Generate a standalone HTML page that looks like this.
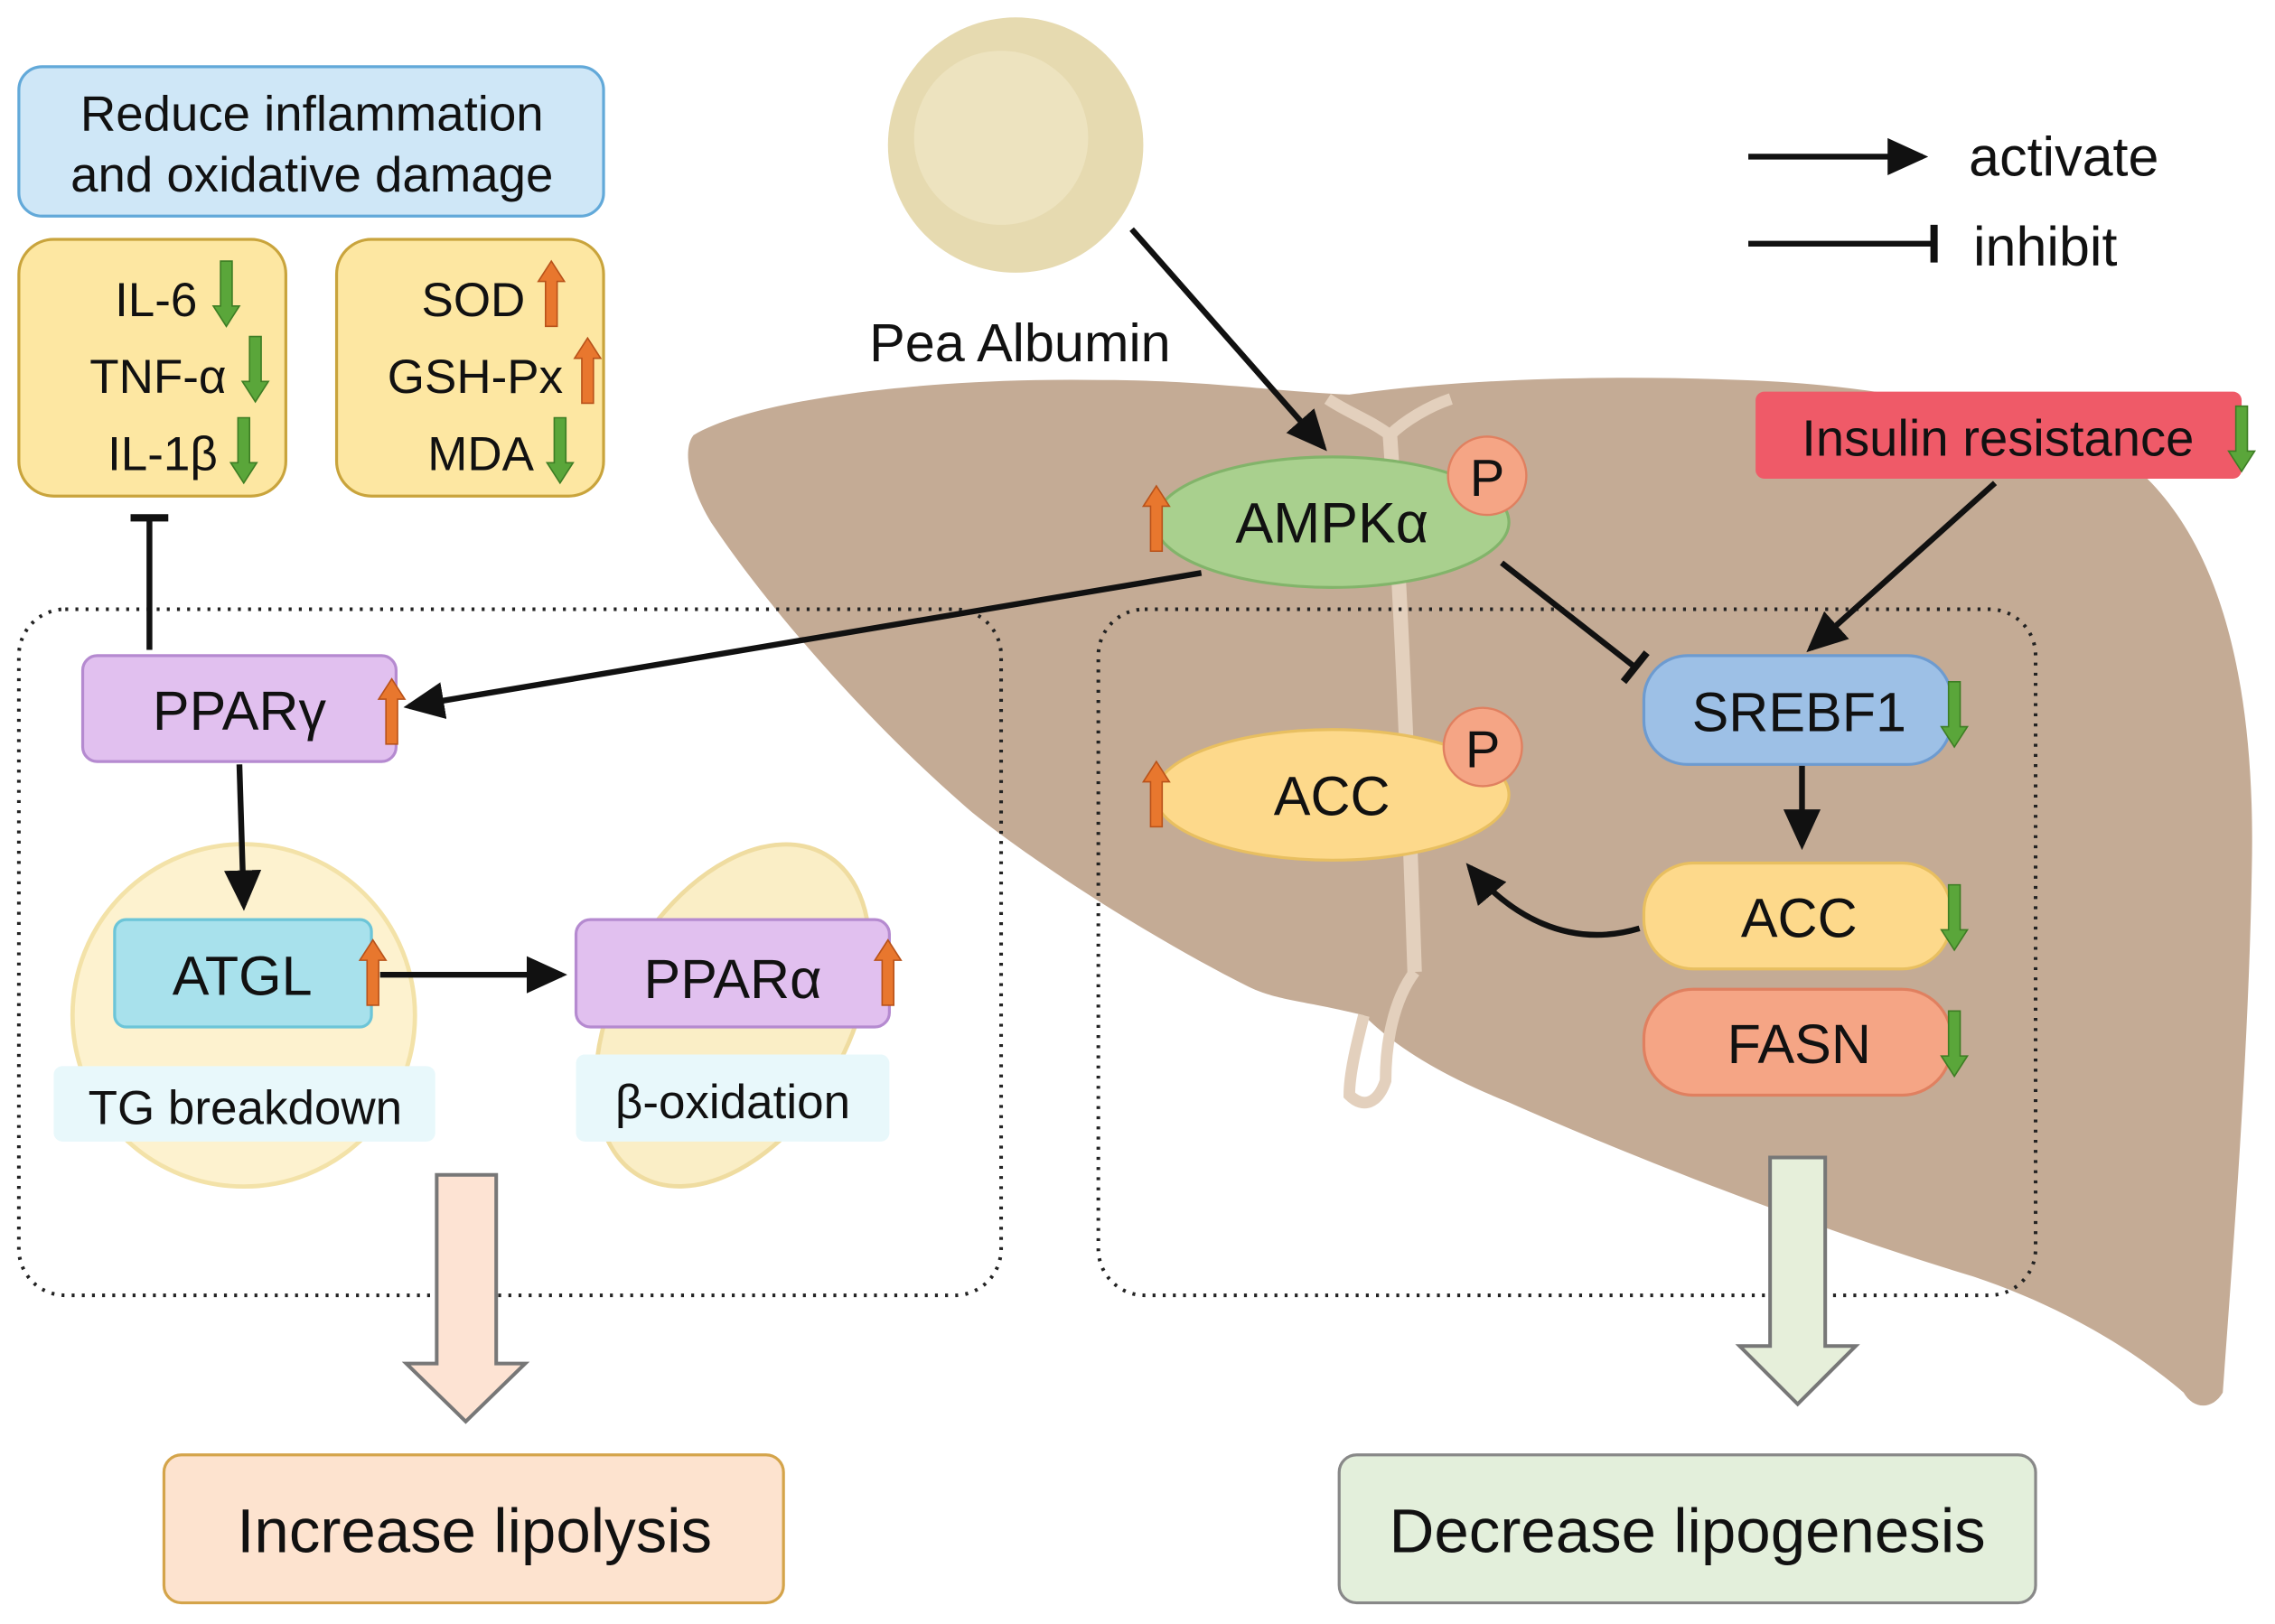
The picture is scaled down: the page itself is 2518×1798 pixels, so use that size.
<!DOCTYPE html>
<html><head><meta charset="utf-8"><style>
html,body{margin:0;padding:0;background:#fff}
svg{display:block}
text{font-family:"Liberation Sans",sans-serif;fill:#111}
</style></head><body>
<svg width="2518" height="1798" viewBox="0 0 1568 1119.6" preserveAspectRatio="none" xmlns="http://www.w3.org/2000/svg">
<defs>
<marker id="ah" markerWidth="8" markerHeight="8" refX="6" refY="4" orient="auto" markerUnits="strokeWidth"><path d="M0,0.8 L7,4 L0,7.2 Z" fill="#111"/></marker>
<g id="up"><path d="M-4,45 L-4,14 L-9,14 L0,0 L9,14 L4,14 L4,45 Z" fill="#e8772e" stroke="#b8521a" stroke-width="1"/></g>
<g id="dn"><path d="M-4,0 L-4,31 L-9,31 L0,45 L9,31 L4,31 L4,0 Z" fill="#5aa63a" stroke="#3d7d24" stroke-width="1"/></g>
</defs>
<!-- liver -->
<path d="M478,300 C520,275 640,260 760,262 C830,262 880,270 930,272 C1000,262 1100,258 1200,262 C1330,266 1440,300 1480,330 C1530,380 1555,470 1552,600 C1550,720 1540,850 1532,960 C1525,972 1512,972 1505,960 C1470,930 1420,900 1360,880 C1260,850 1130,800 1040,760 C990,740 960,720 940,700 C900,690 880,690 860,680 C800,650 720,600 670,560 C600,500 530,420 490,360 C475,335 470,310 478,300 Z" fill="#c4ab95"/>
<path d="M940,700 C935,720 930,740 930,755 C940,765 950,760 955,745 C955,720 960,690 975,670" fill="none" stroke="#e3d0bd" stroke-width="8"/>
<path d="M958,300 C965,400 970,520 975,670" fill="none" stroke="#e3d0bd" stroke-width="10"/>
<path d="M915,275 C930,285 945,290 958,300 C968,290 985,280 1000,275" fill="none" stroke="#e3d0bd" stroke-width="8"/>
<!-- pea albumin -->
<circle cx="700" cy="100" r="88" fill="#e6dab0"/>
<circle cx="690" cy="95" r="60" fill="#ede3bf"/>
<text x="703" y="249" font-size="37" text-anchor="middle">Pea Albumin</text>
<line x1="780" y1="158" x2="912" y2="308" stroke="#111" stroke-width="4" marker-end="url(#ah)"/>
<!-- legend -->
<line x1="1205" y1="108" x2="1325" y2="108" stroke="#111" stroke-width="4" marker-end="url(#ah)"/>
<text x="1357" y="121" font-size="38">activate</text>
<line x1="1205" y1="168" x2="1333" y2="168" stroke="#111" stroke-width="4"/>
<line x1="1333" y1="155" x2="1333" y2="181" stroke="#111" stroke-width="5"/>
<text x="1360" y="183" font-size="38">inhibit</text>
<!-- top-left boxes -->
<rect x="13" y="46" width="403" height="103" rx="16" fill="#cfe7f7" stroke="#62a9d9" stroke-width="2"/>
<text x="215" y="90" font-size="34" text-anchor="middle">Reduce inflammation</text>
<text x="215" y="132" font-size="34" text-anchor="middle">and oxidative damage</text>
<rect x="13" y="165" width="184" height="177" rx="24" fill="#fde7a2" stroke="#c9a43c" stroke-width="2"/>
<rect x="232" y="165" width="184" height="177" rx="24" fill="#fde7a2" stroke="#c9a43c" stroke-width="2"/>
<text x="136" y="218" font-size="33" text-anchor="end">IL-6</text>
<text x="156" y="271" font-size="33" text-anchor="end">TNF-α</text>
<text x="150" y="324" font-size="33" text-anchor="end">IL-1β</text>
<use href="#dn" x="156" y="180"/><use href="#dn" x="176" y="232"/><use href="#dn" x="168" y="288"/>
<text x="362" y="218" font-size="33" text-anchor="end">SOD</text>
<text x="388" y="271" font-size="33" text-anchor="end">GSH-Px</text>
<text x="368" y="324" font-size="33" text-anchor="end">MDA</text>
<use href="#up" x="380" y="180"/><use href="#up" x="405" y="233"/><use href="#dn" x="386" y="288"/>
<!-- dotted boxes -->
<rect x="13" y="420" width="677" height="473" rx="32" fill="none" stroke="#222" stroke-width="2.5" stroke-dasharray="2,5"/>
<rect x="757" y="420" width="646" height="473" rx="32" fill="none" stroke="#222" stroke-width="2.5" stroke-dasharray="2,5"/>
<!-- left inner illustrations -->
<circle cx="168" cy="700" r="118" fill="#fdf2cf" stroke="#f3e2a8" stroke-width="3"/>
<g transform="rotate(-60 505 700)"><ellipse cx="505" cy="700" rx="128" ry="80" fill="#faeec6" stroke="#efdca0" stroke-width="3"/></g>
<!-- insulin -->
<rect x="1210" y="270" width="335" height="60" rx="6" fill="#ef5a68"/>
<text x="1377" y="314" font-size="35" text-anchor="middle">Insulin resistance</text>
<use href="#dn" x="1545" y="280"/>
<line x1="1375" y1="333" x2="1248" y2="447" stroke="#111" stroke-width="4" marker-end="url(#ah)"/>
<!-- AMPK -->
<line x1="1035" y1="388" x2="1127" y2="460" stroke="#111" stroke-width="4"/>
<line x1="1119" y1="470" x2="1135" y2="450" stroke="#111" stroke-width="5"/>
<line x1="828" y1="395" x2="282" y2="487" stroke="#111" stroke-width="4" marker-end="url(#ah)"/>
<ellipse cx="918" cy="360" rx="122" ry="45" fill="#a9d08e" stroke="#82b46a" stroke-width="2"/>
<text x="918" y="374" font-size="39" text-anchor="middle">AMPKα</text>
<circle cx="1025" cy="328" r="27" fill="#f5a585" stroke="#e08060" stroke-width="1.5"/>
<text x="1025" y="342" font-size="36" text-anchor="middle">P</text>
<use href="#up" x="797" y="335"/>
<!-- PPARγ -->
<line x1="103" y1="448" x2="103" y2="358" stroke="#111" stroke-width="4"/>
<line x1="90" y1="357" x2="116" y2="357" stroke="#111" stroke-width="5"/>
<rect x="57" y="452" width="216" height="73" rx="10" fill="#e1c0ef" stroke="#b58ad0" stroke-width="2"/>
<text x="165" y="503" font-size="38" text-anchor="middle">PPARγ</text>
<use href="#up" x="270" y="468"/>
<line x1="165" y1="527" x2="168" y2="624" stroke="#111" stroke-width="4" marker-end="url(#ah)"/>
<!-- ATGL -->
<rect x="79" y="634" width="177" height="74" rx="8" fill="#a8e1ec" stroke="#6cc5d8" stroke-width="2"/>
<text x="167" y="686" font-size="38" text-anchor="middle">ATGL</text>
<use href="#up" x="257" y="648"/>
<line x1="262" y1="672" x2="387" y2="672" stroke="#111" stroke-width="4" marker-end="url(#ah)"/>
<rect x="397" y="634" width="216" height="74" rx="10" fill="#e1c0ef" stroke="#b58ad0" stroke-width="2"/>
<text x="505" y="688" font-size="38" text-anchor="middle">PPARα</text>
<use href="#up" x="612" y="648"/>
<rect x="37" y="735" width="263" height="52" rx="6" fill="#e8f8fb"/>
<text x="169" y="775" font-size="33" text-anchor="middle">TG breakdown</text>
<rect x="397" y="727" width="216" height="60" rx="6" fill="#e8f8fb"/>
<text x="505" y="771" font-size="33" text-anchor="middle">β-oxidation</text>
<!-- right side -->
<rect x="1133" y="452" width="212" height="75" rx="30" fill="#9dc0e6" stroke="#6d9bd0" stroke-width="2"/>
<text x="1240" y="504" font-size="38" text-anchor="middle">SREBF1</text>
<use href="#dn" x="1347" y="470"/>
<line x1="1242" y1="528" x2="1242" y2="582" stroke="#111" stroke-width="4" marker-end="url(#ah)"/>
<ellipse cx="918" cy="548" rx="122" ry="45" fill="#fdd98b" stroke="#e8bf60" stroke-width="2"/>
<text x="918" y="562" font-size="38" text-anchor="middle">ACC</text>
<circle cx="1022" cy="515" r="27" fill="#f5a585" stroke="#e08060" stroke-width="1.5"/>
<text x="1022" y="529" font-size="36" text-anchor="middle">P</text>
<use href="#up" x="797" y="525"/>
<rect x="1133" y="595" width="212" height="73" rx="34" fill="#fdd98b" stroke="#e8bf60" stroke-width="2"/>
<text x="1240" y="646" font-size="38" text-anchor="middle">ACC</text>
<use href="#dn" x="1347" y="610"/>
<rect x="1133" y="682" width="212" height="73" rx="34" fill="#f5a585" stroke="#e08060" stroke-width="2"/>
<text x="1240" y="733" font-size="38" text-anchor="middle">FASN</text>
<use href="#dn" x="1347" y="697"/>
<path d="M1130,640 C1080,655 1040,630 1013,598" fill="none" stroke="#111" stroke-width="4" marker-end="url(#ah)"/>
<!-- hollow arrows -->
<path d="M301,810 L342,810 L342,940 L362,940 L321,980 L280,940 L301,940 Z" fill="#fde3d3" stroke="#777" stroke-width="2.5"/>
<path d="M1220,798 L1258,798 L1258,928 L1279,928 L1239,968 L1199,928 L1220,928 Z" fill="#e6efda" stroke="#777" stroke-width="2.5"/>
<rect x="113" y="1003" width="427" height="102" rx="12" fill="#fde3cf" stroke="#d4a44a" stroke-width="2"/>
<text x="327" y="1070" font-size="43" text-anchor="middle">Increase lipolysis</text>
<rect x="923" y="1003" width="480" height="102" rx="12" fill="#e3efdb" stroke="#888" stroke-width="2"/>
<text x="1163" y="1070" font-size="43" text-anchor="middle">Decrease lipogenesis</text>
</svg>
</body></html>
